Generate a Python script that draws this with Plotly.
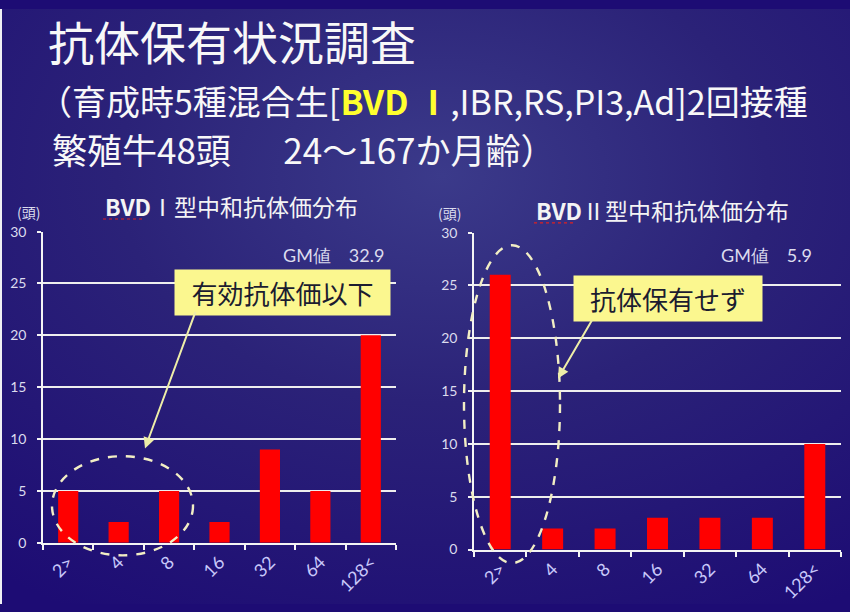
import base64
import plotly.graph_objects as go

# Antibody titer classes and head counts per class
titer_classes = ["2>", "4", "8", "16", "32", "64", "128<"]
bvd1_counts = [5, 2, 5, 2, 9, 5, 20]
bvd2_counts = [26, 2, 2, 3, 3, 3, 10]
y_ticks = [0, 5, 10, 15, 20, 25, 30]

W, H = 850, 612


def px(x):
    return x / W


def py(y):
    return 1 - y / H


# Slide background: soft radial gradient in deep blue-violet
svg = f"""<svg xmlns='http://www.w3.org/2000/svg' width='{W}' height='{H}'>
<defs><radialGradient id='g' cx='0.52' cy='0.28' r='0.85'>
<stop offset='0' stop-color='#3b3a8a'/>
<stop offset='0.45' stop-color='#2b2278'/>
<stop offset='1' stop-color='#1d0c74'/>
</radialGradient></defs>
<rect width='{W}' height='{H}' fill='url(#g)'/>
</svg>"""
bg_src = "data:image/svg+xml;base64," + base64.b64encode(svg.encode()).decode()

CJK = "Noto Sans CJK JP"
LABEL = "Lato, 'Noto Sans', sans-serif"
LIGHT = "#dcdcee"

fig = go.Figure()
fig.add_trace(go.Bar(x=titer_classes, y=bvd1_counts, width=0.4,
                     marker=dict(color="#ff0000", line=dict(width=0)),
                     xaxis="x", yaxis="y", hoverinfo="x+y"))
fig.add_trace(go.Bar(x=titer_classes, y=bvd2_counts, width=0.4,
                     marker=dict(color="#ff0000", line=dict(width=0)),
                     xaxis="x2", yaxis="y2", hoverinfo="x+y"))

xcommon = dict(showline=True, linecolor="#f4f4f4", linewidth=2,
               ticks="outside", tickson="boundaries", ticklen=5,
               tickcolor="#f4f4f4", tickwidth=1.5, tickangle=-45,
               tickfont=dict(family=LABEL, size=18, color="#c8c8fa"),
               showgrid=False, zeroline=False, fixedrange=True)
ycommon = dict(range=[0, 30], tickvals=y_ticks, showline=True,
               linecolor="#f4f4f4", linewidth=1.5, ticks="outside",
               ticklen=4, tickcolor="#f4f4f4", tickwidth=1.5,
               ticklabelstandoff=8,
               tickfont=dict(family=LABEL, size=14, color=LIGHT),
               showgrid=True, gridcolor="#eeeeee", gridwidth=1.5,
               zeroline=False, fixedrange=True)

annotations = [
    dict(x=px(46), y=py(32), text="抗体保有状況調査",
         font=dict(family=CJK, size=46, color="#f8f8f8")),
    dict(x=px(36), y=py(94),
         text="（育成時5種混合生[<b><span style='color:#ffff2e'>BVD Ⅰ</span></b>,IBR,RS,PI3,Ad]2回接種",
         font=dict(family=CJK, size=34, color="#f8f8f8")),
    dict(x=px(50), y=py(143), text="繁殖牛48頭　\u200224～167か月齢）",
         font=dict(family=CJK, size=35, color="#f8f8f8")),
    # chart titles
    dict(x=px(231), y=py(203), xanchor="center",
         text="<b>BVD</b>Ⅰ型中和抗体価分布",
         font=dict(family=CJK, size=23, color="#f4f4f4")),
    dict(x=px(662), y=py(207), xanchor="center",
         text="<b>BVD</b>Ⅱ型中和抗体価分布",
         font=dict(family=CJK, size=23, color="#f4f4f4")),
    # unit labels
    dict(x=px(15), y=py(209), text="(頭)",
         font=dict(family=CJK, size=14, color=LIGHT)),
    dict(x=px(436), y=py(210), text="(頭)",
         font=dict(family=CJK, size=14, color=LIGHT)),
    # geometric mean titers
    dict(x=px(386), y=py(253), xanchor="right", text="GM値　32.9",
         font=dict(family=LABEL, size=18, color=LIGHT)),
    dict(x=px(814), y=py(253), xanchor="right", text="GM値　5.9",
         font=dict(family=LABEL, size=18, color=LIGHT)),
    # callout boxes
    dict(x=px(282), y=py(292), xanchor="center", text="有効抗体価以下",
         width=207, height=37, bgcolor="#fbf78f", borderpad=4,
         font=dict(family=CJK, size=26, color="#1c1c30")),
    dict(x=px(668), y=py(298), xanchor="center", text="抗体保有せず",
         width=180, height=37, bgcolor="#fbf78f", borderpad=4,
         font=dict(family=CJK, size=26, color="#1c1c30")),
]
for a in annotations:
    a.setdefault("xref", "paper")
    a.setdefault("yref", "paper")
    a.setdefault("xanchor", "left")
    a.setdefault("yanchor", "middle")
    a.setdefault("showarrow", False)

# arrows from callouts toward the circled groups
arrow_style = dict(xref="paper", yref="paper", axref="pixel", ayref="pixel",
                   text="", showarrow=True, arrowhead=2, arrowsize=1.1,
                   arrowwidth=2, arrowcolor="#eeeea8")
annotations.append(dict(x=px(145), y=py(452), ax=51, ay=-138, **arrow_style))
annotations.append(dict(x=px(558), y=py(380), ax=35, ay=-60, **arrow_style))

shapes = [
    dict(type="circle", xref="paper", yref="paper",
         x0=px(52), x1=px(193), y0=py(562), y1=py(460),
         line=dict(color="#f2eec4", width=2.4, dash="dash")),
    dict(type="circle", xref="paper", yref="paper",
         x0=px(464), x1=px(560), y0=py(570), y1=py(243),
         line=dict(color="#f2eec4", width=2.4, dash="dash")),
    # thin light edge of the slide
    dict(type="rect", xref="paper", yref="paper", x0=0, x1=px(2), y0=0, y1=1,
         fillcolor="#f0f0f4", line=dict(width=0), layer="below"),
    # spell-check squiggles under the chart-title abbreviations
    dict(type="line", xref="paper", yref="paper", x0=px(103), x1=px(145),
         y0=py(216), y1=py(216), line=dict(color="#e02020", width=1.2, dash="dot")),
    dict(type="line", xref="paper", yref="paper", x0=px(534), x1=px(576),
         y0=py(220), y1=py(220), line=dict(color="#e02020", width=1.2, dash="dot")),
]

fig.update_layout(
    width=W, height=H, margin=dict(l=0, r=0, t=0, b=0),
    paper_bgcolor="#1d0c74", plot_bgcolor="rgba(0,0,0,0)",
    showlegend=False, bargap=0.6,
    xaxis=dict(domain=[px(43), px(396)], anchor="y", **xcommon),
    yaxis=dict(domain=[1 - 549 / H, 1 - 229 / H], anchor="x", **ycommon),
    xaxis2=dict(domain=[px(474), px(841)], anchor="y2", **xcommon),
    yaxis2=dict(domain=[1 - 556 / H, 1 - 230 / H], anchor="x2", **ycommon),
    annotations=annotations, shapes=shapes,
    images=[dict(source=bg_src, xref="paper", yref="paper", x=0, y=1,
                 sizex=1, sizey=1, sizing="stretch", layer="below")],
)

fig.write_html("out.html")
